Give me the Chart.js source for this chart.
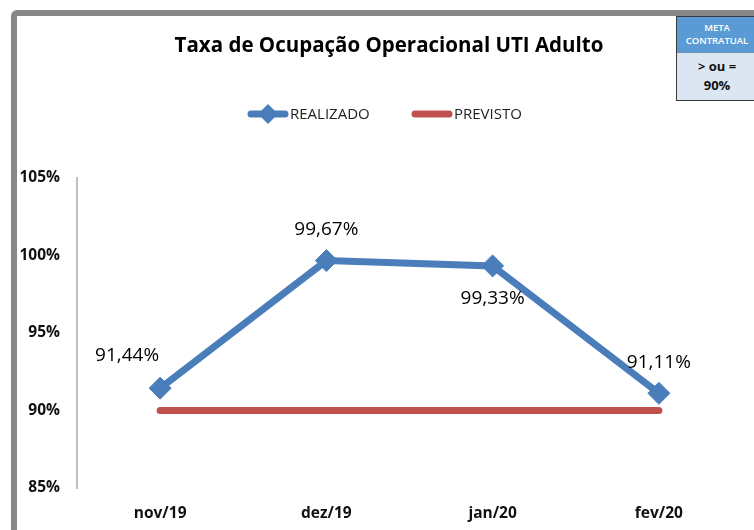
<!DOCTYPE html>
<html>
<head>
<meta charset="utf-8">
<script src="https://cdn.jsdelivr.net/npm/chart.js@4.4.1/dist/chart.umd.min.js"></script>
<style>
  html, body { margin: 0; padding: 0; background: #fff; }
  #wrap { position: relative; width: 754px; height: 530px; overflow: hidden; }
  #frame { position: absolute; left: 11px; top: 10px; width: 800px; height: 600px;
           border: 6px solid #878787; border-radius: 6px; box-sizing: border-box; pointer-events: none; }
  canvas { position: absolute; left: 0; top: 0; }
  #meta { position: absolute; left: 676px; top: 16px; width: 82px; height: 85px;
          border: 1px solid #3a3a3a; box-sizing: border-box; font-family: "Open Sans", sans-serif; }
  #meta .top { background: #5B9BD5; color: #fff; height: 36px; font-size: 9.5px; font-weight: 600; line-height: 13px;
               text-align: center; padding-top: 4px; box-sizing: border-box; border-bottom: 1px solid #6f8fb5; }
  #meta .bot { background: #DCE6F2; color: #111; height: 47px; font-size: 13px; font-weight: bold;
               line-height: 19px; text-align: center; padding-top: 4px; box-sizing: border-box; }
</style>
</head>
<body>
<div id="wrap">
  <canvas id="c" width="754" height="530"></canvas>
  <div id="frame"></div>
  <div id="meta"><div class="top">META<br>CONTRATUAL</div><div class="bot">&gt; ou =<br>90%</div></div>
</div>
<script>
const chartTitle = "Taxa de Ocupação Operacional UTI Adulto";
const categories = ["nov/19", "dez/19", "jan/20", "fev/20"];
const realizado = [91.44, 99.67, 99.33, 91.11];
const previsto = [90, 90, 90, 90];
const seriesNames = ["REALIZADO", "PREVISTO"];
const yTicks = [85, 90, 95, 100, 105];

const blue = "#4A7EBB";
const red = "#C0504D";
const FONT = '"Open Sans", sans-serif';

function fmt(v) { return v.toFixed(2).replace(".", ",") + "%"; }

const labelOffsets = [[-33, -33], [0, -31], [0, 33], [0, -31]];

const overlay = {
  id: "overlay",
  afterDraw(chart) {
    const ctx = chart.ctx;
    ctx.save();
    // title
    ctx.fillStyle = "#000";
    ctx.font = "bold 20.5px " + FONT;
    ctx.textAlign = "center";
    ctx.textBaseline = "middle";
    ctx.fillText(chartTitle, 389, 46);
    // legend
    const items = [{x: 248, ds: 0}, {x: 412, ds: 1}];
    items.forEach(it => {
      const ds = chart.data.datasets[it.ds];
      const y = 114;
      ctx.strokeStyle = ds.borderColor;
      ctx.lineWidth = 7;
      ctx.lineCap = "round";
      ctx.beginPath(); ctx.moveTo(it.x + 3, y); ctx.lineTo(it.x + 37, y); ctx.stroke();
      if (it.ds === 0) {
        ctx.fillStyle = ds.borderColor;
        ctx.beginPath();
        ctx.moveTo(it.x + 20, y - 10); ctx.lineTo(it.x + 30, y); ctx.lineTo(it.x + 20, y + 10); ctx.lineTo(it.x + 10, y);
        ctx.closePath(); ctx.fill();
      }
      ctx.fillStyle = "#222";
      ctx.font = "15px " + FONT;
      ctx.textAlign = "left";
      ctx.fillText(ds.label, it.x + 42, y + 1);
    });
    // data labels
    const meta = chart.getDatasetMeta(0);
    ctx.fillStyle = "#000";
    ctx.font = "19px " + FONT;
    ctx.textAlign = "center";
    meta.data.forEach((pt, i) => {
      const o = labelOffsets[i];
      ctx.fillText(fmt(realizado[i]), pt.x + o[0], pt.y + o[1]);
    });
    ctx.restore();
  }
};

new Chart(document.getElementById("c"), {
  type: "line",
  data: {
    labels: categories,
    datasets: [
      { label: seriesNames[0], data: realizado, borderColor: blue, backgroundColor: blue,
        borderWidth: 7, pointStyle: "rectRot", pointRadius: 11, pointHoverRadius: 11,
        pointBackgroundColor: blue, pointBorderColor: blue, pointBorderWidth: 1, tension: 0, order: 0 },
      { label: seriesNames[1], data: previsto, borderColor: red, backgroundColor: red,
        borderWidth: 7, pointRadius: 0, pointHoverRadius: 0, borderCapStyle: "round", tension: 0, order: 1 }
    ]
  },
  options: {
    responsive: false,
    animation: false,
    events: [],
    layout: { padding: { top: 178, right: 9, left: 0, bottom: 0 } },
    plugins: { legend: { display: false }, title: { display: false }, tooltip: { enabled: false } },
    scales: {
      x: {
        offset: true,
        grid: { display: false, drawTicks: false },
        border: { display: false },
        ticks: { color: "#111", font: { family: FONT, size: 15.5, weight: "bold" }, padding: 16, maxRotation: 0 },
        afterFit(s) { s.height = 42; }
      },
      y: {
        min: 85, max: 105,
        afterBuildTicks(s) { s.ticks = yTicks.map(v => ({ value: v })); },
        grid: { display: false, drawTicks: false },
        border: { display: true, color: "#BFBFBF", width: 2 },
        ticks: { color: "#111", font: { family: FONT, size: 15.5, weight: "bold" }, padding: 17,
                 callback: v => v + "%" },
        afterFit(s) { s.width = 77; }
      }
    }
  },
  plugins: [overlay]
});
</script>
</body>
</html>
